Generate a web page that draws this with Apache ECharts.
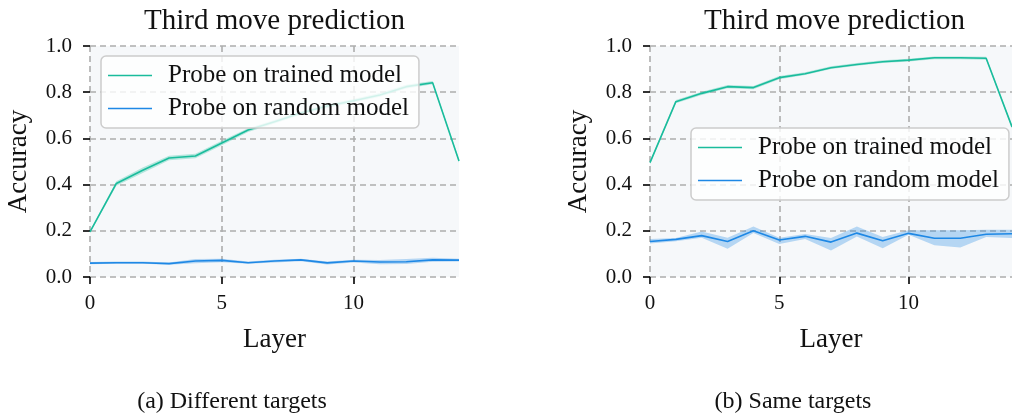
<!DOCTYPE html>
<html>
<head>
<meta charset="utf-8">
<script src="https://cdn.jsdelivr.net/npm/echarts@6/dist/echarts.min.js"></script>
<style>
html,body{margin:0;padding:0;background:#fff;}
#chart{width:1012px;height:415px;}
</style>
</head>
<body>
<div id="chart"></div>
<script>
// ---- data ----
const layers = [0,1,2,3,4,5,6,7,8,9,10,11,12,13,14];
const seriesNames = ['Probe on trained model', 'Probe on random model'];
const titles = ['Third move prediction', 'Third move prediction'];
const captions = ['(a) Different targets', '(b) Same targets'];
const xTicks = [0, 5, 10];

// (a) different targets
const aTrained   = [0.195,0.405,0.462,0.515,0.524,0.580,0.636,0.672,0.710,0.740,0.763,0.788,0.824,0.841,0.502];
const aTrainedLo = [0.190,0.395,0.450,0.505,0.514,0.570,0.628,0.664,0.702,0.732,0.755,0.780,0.816,0.834,0.495];
const aTrainedHi = [0.200,0.415,0.474,0.525,0.534,0.590,0.644,0.680,0.718,0.748,0.771,0.796,0.832,0.848,0.509];
const aRandom    = [0.060,0.062,0.062,0.058,0.069,0.072,0.062,0.069,0.074,0.061,0.069,0.065,0.066,0.074,0.073];
const aRandomLo  = [0.055,0.057,0.057,0.053,0.060,0.064,0.057,0.063,0.068,0.054,0.063,0.055,0.056,0.066,0.067];
const aRandomHi  = [0.065,0.067,0.067,0.063,0.078,0.079,0.067,0.075,0.079,0.067,0.075,0.074,0.078,0.083,0.079];

// (b) same targets
const bTrained   = [0.495,0.759,0.795,0.824,0.820,0.863,0.880,0.906,0.920,0.932,0.939,0.949,0.949,0.947,0.650];
const bTrainedLo = [0.488,0.752,0.788,0.817,0.813,0.856,0.874,0.900,0.914,0.926,0.933,0.943,0.943,0.941,0.643];
const bTrainedHi = [0.502,0.766,0.802,0.831,0.827,0.870,0.886,0.912,0.926,0.938,0.945,0.955,0.955,0.953,0.657];
const bRandom    = [0.154,0.163,0.179,0.154,0.200,0.160,0.176,0.151,0.190,0.157,0.189,0.168,0.168,0.185,0.187];
const bRandomLo  = [0.145,0.155,0.170,0.122,0.190,0.143,0.164,0.115,0.175,0.125,0.183,0.137,0.128,0.173,0.169];
const bRandomHi  = [0.164,0.169,0.197,0.170,0.219,0.170,0.186,0.169,0.219,0.173,0.202,0.202,0.202,0.205,0.205];

// ---- style ----
const SERIF = '"Liberation Serif", "DejaVu Serif", serif';
const TXT = '#111';
const GREEN = '#1abc9c';
const BLUE = '#1e88e5';
const GREEN_BAND = 'rgba(26,188,156,0.30)';
const BLUE_BAND = 'rgba(30,136,229,0.30)';
const panelLeft = [90, 650];
const panelTop = 46, panelW = 369, panelH = 231;

const pairs = arr => layers.map((x, i) => [x, arr[i]]);

function band(gi, lo, hi, color) {
  return {
    type:'custom', xAxisIndex:gi, yAxisIndex:gi, silent:true, z:1, clip:true,
    data:[[layers[0], lo[0]]],
    renderItem: function (params, api) {
      const pts = [];
      for (let i = 0; i < layers.length; i++) pts.push(api.coord([layers[i], hi[i]]));
      for (let i = layers.length - 1; i >= 0; i--) pts.push(api.coord([layers[i], lo[i]]));
      return {type:'polygon', shape:{points:pts}, style:{fill:color, stroke:null}};
    }
  };
}
function mainLine(gi, name, vals, color) {
  return {type:'line', name:name, xAxisIndex:gi, yAxisIndex:gi, data:pairs(vals),
    symbol:'none', lineStyle:{color:color, width:1.6}, itemStyle:{color:color}, z:3};
}

const grids = [], xAxes = [], yAxes = [], series = [], titleArr = [], legends = [];
const panelData = [
  [aTrained, aTrainedLo, aTrainedHi, aRandom, aRandomLo, aRandomHi],
  [bTrained, bTrainedLo, bTrainedHi, bRandom, bRandomLo, bRandomHi]
];
const legendPos = [{left:101, top:56}, {left:691, top:128}];

for (let g = 0; g < 2; g++) {
  grids.push({left:panelLeft[g], top:panelTop, width:panelW, height:panelH,
    show:true, backgroundColor:'#f6f8fa', borderWidth:0, containLabel:false});
  const gridLine = {show:true, lineStyle:{color:'#adadad', width:1.6, type:[6,4]}};
  xAxes.push({type:'value', gridIndex:g, min:0, max:14, interval:5,
    axisLine:{show:false},
    axisTick:{show:true, length:7, lineStyle:{color:'#000', width:1.6}, customValues:xTicks},
    axisLabel:{show:true, margin:16, color:TXT, fontFamily:SERIF, fontSize:21, customValues:xTicks},
    splitLine:gridLine,
    name:'Layer', nameLocation:'middle', nameGap:49,
    nameTextStyle:{color:TXT, fontFamily:SERIF, fontSize:27}});
  yAxes.push({type:'value', gridIndex:g, min:0, max:1, interval:0.2,
    axisLine:{show:false},
    axisTick:{show:true, length:7, lineStyle:{color:'#000', width:1.6}},
    axisLabel:{show:true, margin:18, color:TXT, fontFamily:SERIF, fontSize:21,
      formatter: v => v.toFixed(1)},
    splitLine:gridLine,
    name:'Accuracy', nameLocation:'middle', nameGap:58, nameRotate:90,
    nameTextStyle:{color:TXT, fontFamily:SERIF, fontSize:27}});
  const d = panelData[g];
  series.push(band(g, d[1], d[2], GREEN_BAND));
  series.push(band(g, d[4], d[5], BLUE_BAND));
  series.push(mainLine(g, seriesNames[0], d[0], GREEN));
  series.push(mainLine(g, seriesNames[1], d[3], BLUE));
  titleArr.push({text:titles[g], left:panelLeft[g] + panelW/2, top:7, textAlign:'center', padding:0,
    textStyle:{color:TXT, fontFamily:SERIF, fontSize:29, fontWeight:'normal'}});
  legends.push({data:seriesNames, orient:'vertical', left:legendPos[g].left, top:legendPos[g].top,
    icon:'rect', itemWidth:44, itemHeight:1.6, itemGap:8, padding:[7,10,7,7],
    backgroundColor:'rgba(255,255,255,0.8)', borderColor:'#cccccc', borderWidth:1.5, borderRadius:5,
    textStyle:{color:TXT, fontFamily:SERIF, fontSize:25, lineHeight:22, padding:[0,0,0,11]},
    selectedMode:false});
}
titleArr.push({text:captions[0], left:232, top:390, textAlign:'center', padding:0,
  textStyle:{color:TXT, fontFamily:SERIF, fontSize:24, fontWeight:'normal'}});
titleArr.push({text:captions[1], left:793, top:390, textAlign:'center', padding:0,
  textStyle:{color:TXT, fontFamily:SERIF, fontSize:24, fontWeight:'normal'}});

const chart = echarts.init(document.getElementById('chart'), null, {renderer:'canvas'});
chart.setOption({
  animation:false,
  backgroundColor:'#ffffff',
  title:titleArr,
  legend:legends,
  grid:grids,
  xAxis:xAxes,
  yAxis:yAxes,
  series:series
});
</script>
</body>
</html>
